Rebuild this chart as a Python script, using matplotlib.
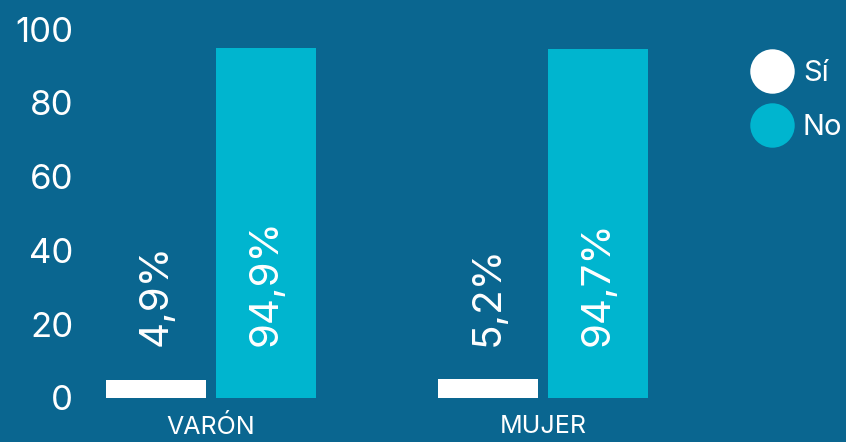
import numpy as np
import matplotlib
matplotlib.use("Agg")
from matplotlib import pyplot as plt
from matplotlib.lines import Line2D

# Data
categories = ["VARÓN", "MUJER"]
series_names = ["Sí", "No"]
si_values = [4.9, 5.2]
no_values = [94.9, 94.7]
si_labels = ["4,9%", "5,2%"]
no_labels = ["94,9%", "94,7%"]
y_ticks = [0, 20, 40, 60, 80, 100]

bg_color = "#0a6690"
si_color = "#ffffff"
no_color = "#00b5cf"

plt.rcParams['font.family'] = ['Inter', 'DejaVu Sans']

fig = plt.figure(figsize=(8.46, 4.42), dpi=100)
fig.patch.set_facecolor(bg_color)

# axes placed so group centers land where the reference has them
ax = fig.add_axes([90 / 846, 44 / 442, 756 / 846, 369 / 442])
ax.set_facecolor("none")

x = np.arange(len(categories))
width = 0.301
offset = 0.1657

ax.bar(x - offset, si_values, width, color=si_color, label=series_names[0])
ax.bar(x + offset, no_values, width, color=no_color, label=series_names[1])

# rotated value labels
for i in range(len(categories)):
    ax.text(x[i] - offset, 14, si_labels[i], rotation=90, ha="center", va="bottom",
            color="white", fontsize=29)
    ax.text(x[i] + offset, 14, no_labels[i], rotation=90, ha="center", va="bottom",
            color="white", fontsize=29)

ax.set_xlim(-0.3645, 1.9127)
ax.set_ylim(0, 100)
ax.set_yticks(y_ticks)
ax.set_xticks(x)
ax.set_xticklabels(categories)
ax.tick_params(axis="y", length=0, pad=12, labelsize=25, labelcolor="white")
ax.tick_params(axis="x", length=0, pad=12, labelsize=18, labelcolor="white")
for spine in ax.spines.values():
    spine.set_visible(False)

handles = [
    Line2D([], [], marker="o", linestyle="none", markersize=32,
           markerfacecolor=si_color, markeredgecolor="none"),
    Line2D([], [], marker="o", linestyle="none", markersize=32,
           markerfacecolor=no_color, markeredgecolor="none"),
]
ax.legend(handles, series_names, loc="upper left", bbox_to_anchor=(749 / 846, 1 - 60 / 442),
          bbox_transform=fig.transFigure, frameon=False, fontsize=21,
          labelcolor="white", handlelength=1.55, handletextpad=0.3,
          labelspacing=0.92, borderpad=0, borderaxespad=0)

fig.savefig("out.png", dpi=100, facecolor=fig.get_facecolor())
